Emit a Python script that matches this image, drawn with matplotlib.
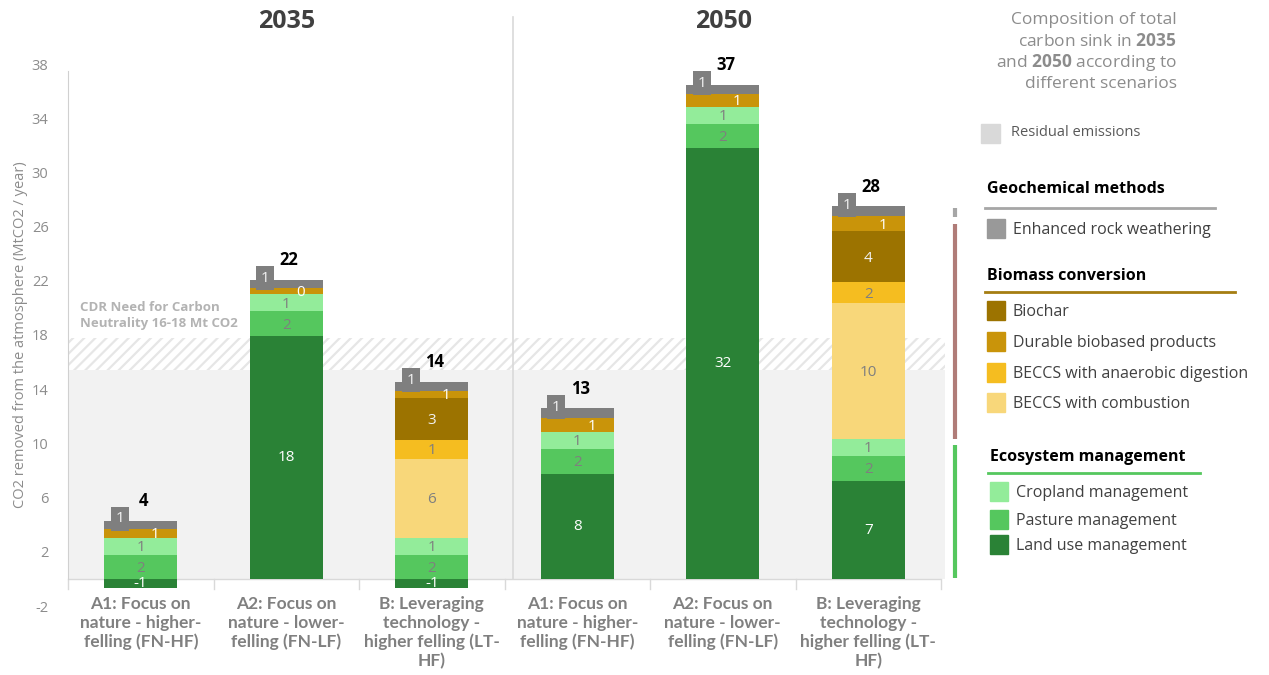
import matplotlib
matplotlib.use("Agg")
import matplotlib.pyplot as plt
from matplotlib.patches import Rectangle
from matplotlib.lines import Line2D
import numpy as np

# Data (MtCO2 / year)
scenarios = [
    "A1: Focus on\nnature - higher-\nfelling (FN-HF)",
    "A2: Focus on\nnature - lower-\nfelling (FN-LF)",
    "B: Leveraging\ntechnology -\nhigher felling (LT-\nHF)",
    "A1: Focus on\nnature - higher-\nfelling (FN-HF)",
    "A2: Focus on\nnature - lower-\nfelling (FN-LF)",
    "B: Leveraging\ntechnology -\nhigher felling (LT-\nHF)",
]
years = ["2035", "2050"]
land_use = [-0.65, 17.9, -0.65, 7.75, 31.8, 7.2]
pasture = [1.8, 1.85, 1.8, 1.85, 1.8, 1.9]
cropland = [1.25, 1.25, 1.25, 1.25, 1.25, 1.25]
beccs_comb = [0, 0, 5.8, 0, 0, 10.0]
beccs_ad = [0, 0, 1.4, 0, 0, 1.55]
biochar = [0, 0, 3.1, 0, 0, 3.75]
durable = [0.6, 0.45, 0.55, 1.0, 0.95, 1.1]
rock = [0.65, 0.6, 0.65, 0.75, 0.65, 0.75]
totals = [4, 22, 14, 13, 37, 28]
residual_emissions = 15.4
cdr_need_top = 17.8

W, H = 1269, 675
plt.rcParams["font.family"] = ["Open Sans", "DejaVu Sans"]
plt.rcParams["mathtext.fontset"] = "custom"
plt.rcParams["mathtext.rm"] = "Open Sans"
plt.rcParams["mathtext.bf"] = "Open Sans:bold"
plt.rcParams["axes.unicode_minus"] = False
plt.rcParams["hatch.linewidth"] = 1.6
plt.rcParams["hatch.color"] = "#e6e6e6"

fig = plt.figure(figsize=(W / 100, H / 100), dpi=100)


def fx(x):
    return x / W


def fy(y):
    return 1 - y / H


ax = fig.add_axes([fx(68), fy(606), (941 - 68) / W, (606 - 64) / H])
ax.set_xlim(-0.5, 5.5)
ax.set_ylim(-2, 38)

x = np.arange(len(scenarios))

# Residual emissions and CDR need band
ax.fill_between([-0.5, 5.53], 0, residual_emissions, color="#f2f2f2", lw=0,
                zorder=0, clip_on=False)
ax.fill_between([-0.5, 5.53], residual_emissions, cdr_need_top, facecolor="white",
                edgecolor="#e6e6e6", hatch="///", lw=0, zorder=0, clip_on=False)
ax.text(-0.42, 19.45, "CDR Need for Carbon\nNeutrality 16-18 Mt CO2", fontsize=9.5,
        fontweight="bold", color="#b3b3b3", va="center", ha="left", linespacing=1.35)

# stacked segments (label colour per series)
series = [
    ("Cropland management", cropland, "#93ec9a", "#7f7f7f"),
    ("Pasture management", pasture, "#55c75e", "#7f7f7f"),
    ("BECCS with combustion", beccs_comb, "#f8d77a", "#7f7f7f"),
    ("BECCS with anaerobic digestion", beccs_ad, "#f5bd20", "#7f7f7f"),
    ("Biochar", biochar, "#9c7300", "#f2f2f2"),
    ("Durable biobased products", durable, "#c9940a", "white"),
]
width = 0.5
lu = np.array(land_use)
ax.bar(x, lu, width, color="#2a8236", zorder=2)
for xi, v in zip(x, lu):
    ax.text(xi, v / 2, f"{v:.0f}", ha="center", va="center", color="white",
            fontsize=11, zorder=5)

bottom = np.clip(lu, 0, None)
order = [pasture, cropland, beccs_comb, beccs_ad, biochar, durable]
cmap = {id(s[1]): s for s in series}
for vals in order:
    name, _, col, tcol = cmap[id(vals)]
    vals = np.array(vals)
    ax.bar(x, vals, width, bottom=bottom, color=col, zorder=2)
    for xi, v, b in zip(x, vals, bottom):
        if v <= 0:
            continue
        dx = 0.1 if name.startswith("Durable") else 0
        ax.text(xi + dx, b + v / 2 - 0.1, f"{v:.0f}", ha="center", va="center",
                color=tcol, fontsize=11, zorder=5)
    bottom = bottom + vals

rk = np.array(rock)
ax.bar(x, rk, width, bottom=bottom, color="#7f7f7f", zorder=2)
for xi, v, b in zip(x, rk, bottom):
    ax.text(xi - 0.145, b + v / 2 + 0.45, f"{v:.0f}", ha="center", va="center",
            color="#f2f2f2", fontsize=11, zorder=6,
            bbox=dict(boxstyle="square,pad=0.3", fc="#7f7f7f", ec="none"))
bottom = bottom + rk

for xi, t, top in zip(x, totals, bottom):
    ax.text(xi + 0.02, top + 1.45, str(t), ha="center", va="center",
            fontsize=12, fontweight="bold", color="black", zorder=6)

# axes styling
for s in ["top", "right", "bottom"]:
    ax.spines[s].set_visible(False)
ax.spines["left"].set_color("#d0d0d0")
ax.spines["left"].set_bounds(0, 37.5)
ax.axhline(0, color="#d9d9d9", lw=1, zorder=1)
for b in np.arange(-0.5, 6, 1):
    ax.plot([b, b], [0, -0.75], color="#d9d9d9", lw=1, clip_on=False, zorder=1)
ax.set_xticks([])
ax.set_yticks(np.arange(-2, 39, 4))
ax.tick_params(axis="y", length=0, pad=14, labelsize=10.5, labelcolor="#8c8c8c")
ax.set_ylabel("CO2 removed from the atmosphere (MtCO2 / year)", fontsize=10.5,
              color="#8c8c8c", labelpad=3)
for xi, lab in zip(x, scenarios):
    ax.text(xi, -1.25, lab, ha="center", va="top", fontsize=12.5, fontweight="bold",
            color="#808080", linespacing=1.22, family=["Lato", "DejaVu Sans"])

# year divider and headers
ax.plot([2.56, 2.56], [0, 41.5], color="#d9d9d9", lw=1.2, clip_on=False, zorder=1)
fig.text(fx(287), fy(22), years[0], ha="center", va="center", fontsize=18,
         fontweight="bold", color="#404040")
fig.text(fx(724), fy(22), years[1], ha="center", va="center", fontsize=18,
         fontweight="bold", color="#404040")

# right-hand legend
title_lines = ["Composition of total", r"carbon sink in $\mathbf{2035}$",
               r"and $\mathbf{2050}$ according to", "different scenarios"]
for i, ln in enumerate(title_lines):
    fig.text(fx(1177), fy(20 + i * 21.3), ln, ha="right", va="center",
             fontsize=12.5, color="#8c8c8c")

fig.patches.append(Rectangle((fx(981), fy(143)), 19 / W, 19 / H,
                             transform=fig.transFigure, color="#d9d9d9"))
fig.text(fx(1011), fy(133), "Residual emissions", fontsize=10.5, color="#595959",
         va="center")

groups = [
    ("Geochemical methods", 987, 189, 208, 1215, "#a6a6a6",
     [("Enhanced rock weathering", "#999999", 229)]),
    ("Biomass conversion", 987, 276, 292, 1235, "#a57d12",
     [("Biochar", "#9c7300", 311), ("Durable biobased products", "#c9940a", 342),
      ("BECCS with anaerobic digestion", "#f5bd20", 373),
      ("BECCS with combustion", "#f8d77a", 403)]),
    ("Ecosystem management", 990, 457, 473, 1200, "#55c75e",
     [("Cropland management", "#93ec9a", 492), ("Pasture management", "#55c75e", 520),
      ("Land use management", "#2a8236", 545)]),
]
for title, tx, ty, uy, ux2, ucol, items in groups:
    fig.text(fx(tx), fy(ty), title, fontsize=11.5, fontweight="bold", color="black",
             va="center")
    fig.add_artist(Line2D([fx(tx - 2), fx(ux2)], [fy(uy), fy(uy)], color=ucol, lw=2))
    for name, col, iy in items:
        fig.patches.append(Rectangle((fx(tx), fy(iy + 9)), 18 / W, 19 / H,
                                     transform=fig.transFigure, color=col))
        fig.text(fx(tx + 26), fy(iy + 1), name, fontsize=11.5, color="#404040",
                 va="center")

# category brackets
for y0, y1, col in [(208, 217, "#a6a6a6"), (224, 439, "#b07c78"), (445, 578, "#55c75e")]:
    fig.add_artist(Line2D([fx(955), fx(955)], [fy(y0), fy(y1)], color=col, lw=3,
                          solid_capstyle="butt"))

fig.savefig("out.png", dpi=100)
